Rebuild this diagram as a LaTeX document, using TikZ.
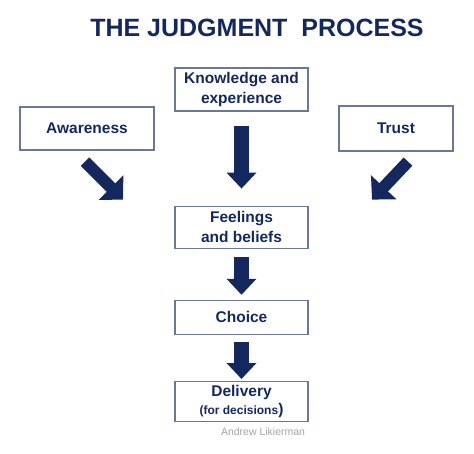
\documentclass[tikz,border=0pt]{standalone}
\usepackage{fontspec}
\setmainfont{Liberation Sans}
\usepackage{xcolor}
\usetikzlibrary{arrows.meta, positioning, calc}

\definecolor{navy}{HTML}{15285E}
\definecolor{boxline}{HTML}{6B7891}
\definecolor{credit}{HTML}{A3A3A3}

\begin{document}
\begin{tikzpicture}[
    x=1pt, y=-1pt,
    box/.style={rectangle, draw=boxline, line width=1.2pt, text=navy, align=center, minimum width=133pt, font=\bfseries\fontsize{15.5}{19.5}\selectfont},
    bigarrow/.style={draw=navy, line width=15pt, -{Triangle[width=29pt, length=16pt]}},
    diagarrow/.style={draw=navy, line width=12pt, -{Triangle[width=34pt, length=17pt]}}
]
\useasboundingbox (0,0) rectangle (474,453);

% Title
\node[text=navy, font=\bfseries\fontsize{25}{30}\selectfont] (title) at (257,28) {THE JUDGMENT\ \ PROCESS};

% Boxes
\node[box, minimum height=43pt] (know) at (241.5,89.5) {Knowledge and\\experience};
\node[box, minimum width=134pt, minimum height=43pt] (aware) at (87,128.5) {Awareness};
\node[box, minimum width=114pt, minimum height=45pt] (trust) at (396,128.5) {Trust};
\node[box, minimum height=42pt, below=94pt of know] (feel) {Feelings\\and beliefs};
\node[box, minimum height=34pt, below=51pt of feel] (choice) {Choice};
\node[box, minimum height=40pt, below=46pt of choice] (deliv) {Delivery\\[-2pt]{\fontsize{12}{14}\selectfont(for decisions})};

\node[text=credit, font=\fontsize{10.5}{12}\selectfont, anchor=north east] (author) at ($(deliv.south east)+(0,2)$) {Andrew Likierman};

% Arrows
\draw[diagarrow] ($(aware.south)+(-2,11)$) -- ++(38,38);
\draw[diagarrow] ($(trust.south)+(12,10)$) -- ++(-36,38);
\draw[bigarrow, shorten <=14pt, shorten >=17pt] (know) -- (feel);
\draw[bigarrow, shorten <=8pt, shorten >=5pt] (feel) -- (choice);
\draw[bigarrow, shorten <=7pt, shorten >=2pt] (choice) -- (deliv);

\end{tikzpicture}
\end{document}
